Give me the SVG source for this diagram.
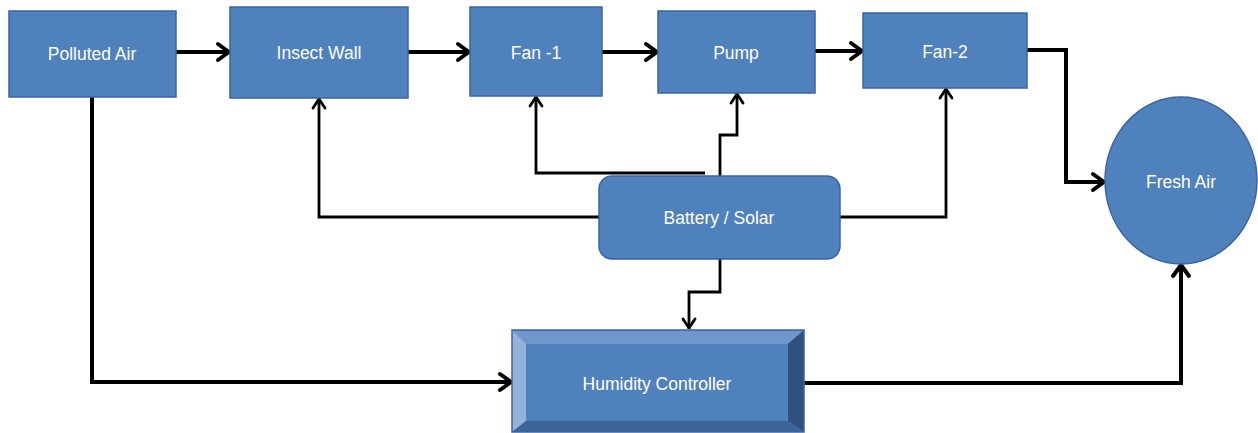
<svg xmlns="http://www.w3.org/2000/svg" width="1258" height="433" viewBox="0 0 1258 433">
<defs>
<style>
.box{fill:#4F81BD;stroke:#3A64A0;stroke-width:1.5}
.lbl{fill:#FFFFFF;font-family:"Liberation Sans",Arial,sans-serif;font-size:17.5px;text-anchor:middle}
.main{fill:none;stroke:#000;stroke-width:4;stroke-linejoin:miter}
.thin{fill:none;stroke:#000;stroke-width:2.8;stroke-linejoin:miter}
</style>
<marker id="big" markerUnits="userSpaceOnUse" viewBox="-16 -11 20 22" refX="0" refY="0" markerWidth="20" markerHeight="22" orient="auto" overflow="visible">
<path d="M-12,-8 L-1,0 L-12,8" fill="none" stroke="#000" stroke-width="4" stroke-linecap="round" stroke-linejoin="round"/>
</marker>
<marker id="small" markerUnits="userSpaceOnUse" viewBox="-14 -9 16 18" refX="0" refY="0" markerWidth="16" markerHeight="18" orient="auto" overflow="visible">
<path d="M-10,-6 L-1,0 L-10,6" fill="none" stroke="#000" stroke-width="2.8" stroke-linecap="round" stroke-linejoin="round"/>
</marker>
</defs>
<rect width="1258" height="433" fill="#FFFFFF"/>
<g id="connectors">
<path class="main" d="M176,52 H230" marker-end="url(#big)"/>
<path class="main" d="M408,52 H470" marker-end="url(#big)"/>
<path class="main" d="M602,52 H658" marker-end="url(#big)"/>
<path class="main" d="M815,51 H863" marker-end="url(#big)"/>
<path class="main" d="M1027,50 H1066 V182 H1105" marker-end="url(#big)"/>
<path class="main" d="M92,97 V382 H512" marker-end="url(#big)"/>
<path class="main" d="M804,383 H1181 V264" marker-end="url(#big)"/>
<path class="thin" d="M599,217 H319 V98" marker-end="url(#small)"/>
<path class="thin" d="M705,173 H536 V96" marker-end="url(#small)"/>
<path class="thin" d="M720,177 V135 H737 V93" marker-end="url(#small)"/>
<path class="thin" d="M840,217 H946 V88" marker-end="url(#small)"/>
<path class="thin" d="M720,259 V292 H689 V329" marker-end="url(#small)"/>
</g>
<g id="polluted-air">
<rect class="box" x="9" y="11" width="167" height="86"/>
<text class="lbl" x="92" y="60">Polluted Air</text>
</g>
<g id="insect-wall">
<rect class="box" x="230" y="7" width="178" height="91"/>
<text class="lbl" x="319" y="59">Insect Wall</text>
</g>
<g id="fan-1">
<rect class="box" x="470" y="7" width="132" height="89"/>
<text class="lbl" x="536" y="59">Fan -1</text>
</g>
<g id="pump">
<rect class="box" x="658" y="11" width="157" height="82"/>
<text class="lbl" x="736" y="59">Pump</text>
</g>
<g id="fan-2">
<rect class="box" x="863" y="13" width="164" height="75"/>
<text class="lbl" x="945" y="58">Fan-2</text>
</g>
<g id="fresh-air">
<ellipse class="box" cx="1181" cy="180.5" rx="76" ry="83.5"/>
<text class="lbl" x="1181" y="188">Fresh Air</text>
</g>
<g id="battery-solar">
<rect class="box" x="599" y="176" width="241" height="83" rx="13" ry="13"/>
<text class="lbl" x="719" y="224">Battery / Solar</text>
</g>
<g id="humidity-controller">
<rect x="512" y="330" width="292" height="102" fill="#4F81BD"/>
<polygon points="512,330 804,330 788,344 526,344" fill="#7097CB"/>
<polygon points="512,330 526,344 526,421 512,432" fill="#95B3D9"/>
<polygon points="804,330 788,344 788,421 804,432" fill="#30517E"/>
<polygon points="512,432 526,421 788,421 804,432" fill="#3E6599"/>
<rect x="526" y="344" width="262" height="77" fill="#4F81BD"/>
<rect x="512" y="330" width="292" height="102" fill="none" stroke="#3A64A0" stroke-width="1.5"/>
<text class="lbl" x="657" y="390">Humidity Controller</text>
</g>
</svg>
